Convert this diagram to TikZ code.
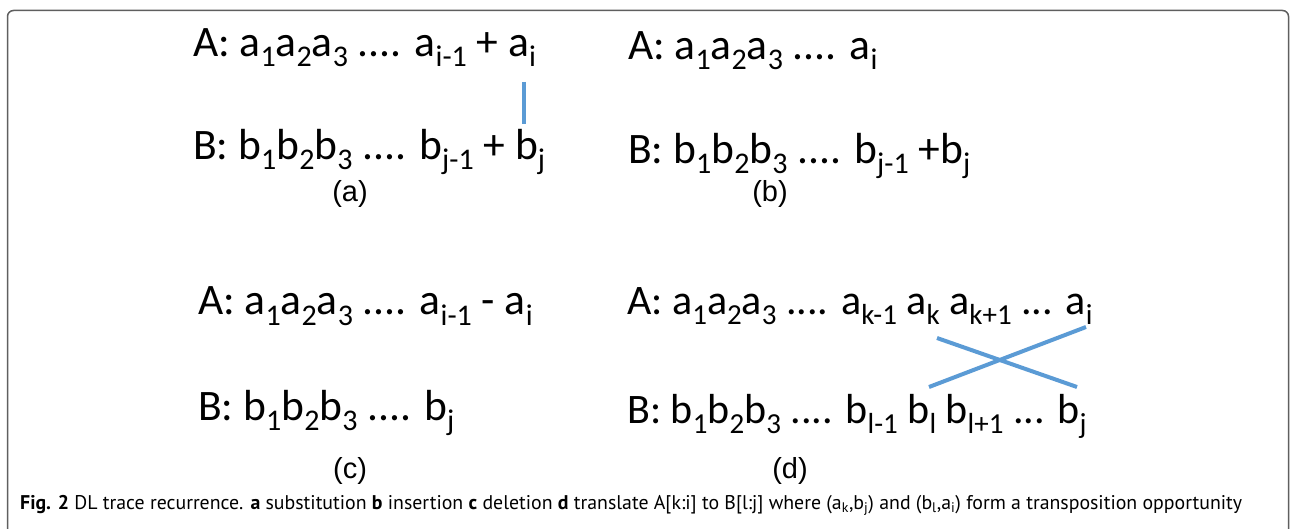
\documentclass[tikz,border=0pt]{standalone}
\usepackage{fontspec}
\setmainfont{Carlito}
\newfontfamily\labfont{Liberation Sans}
\newfontfamily\capfont{PT Sans}
\definecolor{lineblue}{RGB}{91,155,213}
\definecolor{framegray}{RGB}{95,95,95}
\def\subsz{30pt}
\newcommand{\sbx}[1]{\raisebox{-10pt}{\fontsize{\subsz}{\subsz}\selectfont #1}}
\tikzset{
  row/.style={anchor=base west, inner sep=0pt, font=\fontsize{43.5}{43.5}\selectfont},
  rowd/.style={row, font=\fontsize{42}{42}\selectfont\def\subsz{29pt}},
  lab/.style={inner sep=0pt, font=\labfont\fontsize{29}{29}\selectfont},
  link/.style={draw=lineblue, line width=4pt},
  frame/.style={draw=framegray, line width=1.5pt, rounded corners=6pt}
}
\begin{document}
\begin{tikzpicture}[x=1pt,y=-1pt]
\useasboundingbox (0,0) rectangle (1290,529);
\fill[white] (0,0) rectangle (1290,529);
\draw[frame] (7.5,600) -- (7.5,10.5) -- (1288.5,10.5) -- (1288.5,600);
% (a)
\node[row] (aA) at (193,57) {A: a\sbx{1}a\sbx{2}a\sbx{3} .... a\sbx{i-1} + a\sbx{i}};
\node[row] (aB) at (193,160) {B: b\sbx{1}b\sbx{2}b\sbx{3} .... b\sbx{j-1} + b\sbx{j}};
\node[lab] (la) at (350,194) {(a)};
\coordinate (ai) at (524,82);
\coordinate (bj) at (524,124);
\draw[link] (ai) -- (bj);
% (b)
\node[row] (bA) at (628,60) {A: a\sbx{1}a\sbx{2}a\sbx{3} .... a\sbx{i}};
\node[row] (bB) at (628,164) {B: b\sbx{1}b\sbx{2}b\sbx{3} .... b\sbx{j-1} +b\sbx{j}};
\node[lab] (lb) at (770,194) {(b)};
% (c)
\node[row] (cA) at (198,315) {A: a\sbx{1}a\sbx{2}a\sbx{3} .... a\sbx{i-1} - a\sbx{i}};
\node[row] (cB) at (198,420) {B: b\sbx{1}b\sbx{2}b\sbx{3} .... b\sbx{j}};
\node[lab] (lc) at (350,471) {(c)};
% (d)
\node[rowd] (dA) at (627,314) {A: a\sbx{1}a\sbx{2}a\sbx{3} .... a\sbx{k-1} a\sbx{k} a\sbx{k+1} ... a\sbx{i}};
\node[rowd] (dB) at (627,423) {B: b\sbx{1}b\sbx{2}b\sbx{3} .... b\sbx{l-1} b\sbx{l} b\sbx{l+1} ... b\sbx{j}};
\node[lab] (ld) at (790,471) {(d)};
\coordinate (ak) at (937,338);
\coordinate (bjd) at (1077,387);
\coordinate (bl) at (929,387);
\coordinate (aid) at (1086,327);
\draw[link] (ak) -- (bjd);
\draw[link] (bl) -- (aid);
% caption
\node[anchor=base west, inner sep=0pt] (cap) at (20,509) {\resizebox{1222pt}{!}{\capfont\fontsize{17}{17}\selectfont \textbf{Fig. 2} DL trace recurrence. \textbf{a} substitution \textbf{b} insertion \textbf{c} deletion \textbf{d} translate A[k:i] to B[l:j] where (a\textsubscript{k},b\textsubscript{j}) and (b\textsubscript{l},a\textsubscript{i}) form a transposition opportunity}};
\end{tikzpicture}
\end{document}
